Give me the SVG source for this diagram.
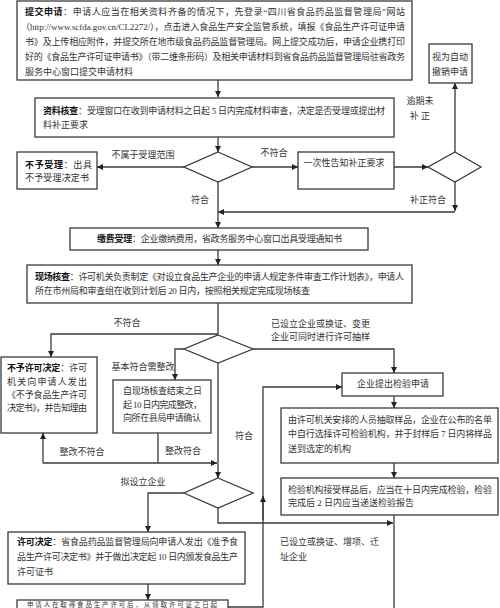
<svg xmlns="http://www.w3.org/2000/svg" width="500" height="608" viewBox="0 0 500 608">
<style>
text{font-family:"Liberation Serif","Noto Sans CJK SC",serif;font-size:9px;fill:#333;dominant-baseline:central}
.b{font-weight:bold;fill:#111}
.c{text-anchor:middle}
.box{fill:#fff;stroke:#3a3a3a;stroke-width:1.3}
.ln{fill:none;stroke:#3a3a3a;stroke-width:1.3}
.ar{marker-end:url(#ah)}
</style>
<defs>
<marker id="ah" viewBox="0 0 10 10" refX="10" refY="5" markerWidth="6" markerHeight="6" markerUnits="userSpaceOnUse" orient="auto"><path d="M0,0 L10,5 L0,10 z" fill="#222"/></marker>
</defs>
<rect width="500" height="608" fill="#fff"/>

<g id="n1">
<rect class="box" x="17" y="1" width="395" height="79"/>
<text x="25" y="12" textLength="380"><tspan class="b">提交申请</tspan>：申请人应当在相关资料齐备的情况下，先登录“四川省食品药品监督管理局”网站</text>
<text x="21" y="27" textLength="384">（http://www.scfda.gov.cn/CL2272/），点击进入食品生产安全监管系统，填报《食品生产许可证申请</text>
<text x="25" y="42" textLength="380">书》及上传相应附件，并提交所在地市级食品药品监督管理局。网上提交成功后，申请企业携打印</text>
<text x="25" y="57" textLength="380">好的《食品生产许可证申请书》（带二维条形码）及相关申请材料到省食品药品监督管理局驻省政务</text>
<text x="25" y="72">服务中心窗口提交申请材料</text>
</g>

<g id="n2">
<rect class="box" x="35" y="98" width="359" height="39"/>
<text x="43" y="111" textLength="342"><tspan class="b">资料核查</tspan>：受理窗口在收到申请材料之日起 5 日内完成材料审查，决定是否受理或提出材</text>
<text x="43" y="125">料补正要求</text>
</g>

<g id="n3">
<rect class="box" x="17" y="152" width="80" height="37"/>
<text x="25" y="165" textLength="67"><tspan class="b">不予受理</tspan>：出具</text>
<text x="25" y="178" textLength="64">不予受理决定书</text>
</g>

<g id="d1"><polygon class="box" points="218,152 252,167 218,182 184,167"/></g>

<g id="n4">
<rect class="box" x="298" y="152" width="96" height="37"/>
<text class="c" x="344" y="163">一次性告知补正要求</text>
</g>

<g id="d2"><polygon class="box" points="455,152 481,167 455,182 428,167"/></g>

<g id="n5">
<rect class="box" x="429" y="44" width="43" height="39"/>
<text class="c" x="450" y="57">视为自动</text>
<text class="c" x="450" y="72">撤销申请</text>
</g>

<g id="n6">
<rect class="box" x="70" y="228" width="298" height="22"/>
<text x="97" y="239" textLength="245"><tspan class="b">缴费受理</tspan>：企业缴纳费用，省政务服务中心窗口出具受理通知书</text>
</g>

<g id="n7">
<rect class="box" x="27" y="265" width="385" height="38"/>
<text x="35" y="277" textLength="369"><tspan class="b">现场核查</tspan>：许可机关负责制定《对设立食品生产企业的申请人规定条件审查工作计划表》，申请人</text>
<text x="35" y="291" textLength="275">所在市州局和审查组在收到计划后 20 日内，按照相关规定完成现场核查</text>
</g>

<g id="d3"><polygon class="box" points="218,335 253,349 218,363 184,349"/></g>

<g id="n8">
<rect class="box" x="1" y="357" width="96" height="76"/>
<text x="7" y="368" textLength="80"><tspan class="b">不予许可决定</tspan>：许可</text>
<text x="7" y="382" textLength="80">机关向申请人发出</text>
<text x="7" y="395" textLength="80">《不予食品生产许可</text>
<text x="7" y="408" textLength="80">决定书》，并告知理由</text>
</g>

<g id="n9">
<rect class="box" x="113" y="380" width="98" height="53"/>
<text x="123" y="391" textLength="79">自现场核查结束之日</text>
<text x="123" y="405" textLength="79">起 10 日内完成整改，</text>
<text x="123" y="418" textLength="78">向所在县局申请确认</text>
</g>

<g id="n10">
<rect class="box" x="342" y="373" width="101" height="23"/>
<text class="c" x="393" y="384">企业提出检验申请</text>
</g>

<g id="n11">
<rect class="box" x="281" y="408" width="217" height="55"/>
<text x="288" y="420" textLength="204">由许可机关安排的人员抽取样品，企业在公布的名单</text>
<text x="288" y="434" textLength="204">中自行选择许可检验机构，并于封样后 7 日内将样品</text>
<text x="288" y="449">送到选定的机构</text>
</g>

<g id="n12">
<rect class="box" x="281" y="478" width="217" height="37"/>
<text x="288" y="490" textLength="204">检验机构接受样品后，应当在十日内完成检验，检验</text>
<text x="288" y="503">完成后 2 日内应当递送检验报告</text>
</g>

<g id="d4"><polygon class="box" points="218,478 253,493 218,508 184,493"/></g>

<g id="n13">
<rect class="box" x="8" y="532" width="237" height="52"/>
<text x="17" y="542" textLength="221"><tspan class="b">许可决定</tspan>：省食品药品监督管理局向申请人发出《准予食</text>
<text x="17" y="557" textLength="221">品生产许可决定书》并于做出决定起 10 日内颁发食品生产</text>
<text x="17" y="572">许可证书</text>
</g>

<g id="n14">
<rect class="box" x="17" y="600" width="211" height="30"/>
<text x="27" y="604.5" style="font-size:6.5px" textLength="190">申请人在取得食品生产许可后，从领取许可证之日起</text>
</g>

<g id="connectors">
<line class="ln ar" x1="218" y1="80" x2="218" y2="97"/>
<line class="ln ar" x1="218" y1="137" x2="218" y2="152"/>
<line class="ln ar" x1="184" y1="167" x2="97" y2="167"/>
<line class="ln ar" x1="252" y1="167" x2="298" y2="167"/>
<line class="ln ar" x1="394" y1="167" x2="428" y2="167"/>
<line class="ln ar" x1="455" y1="152" x2="455" y2="83"/>
<line class="ln ar" x1="455" y1="182" x2="455" y2="211"/>
<polyline class="ln ar" points="455,212 218,212"/>
<line class="ln ar" x1="218" y1="182" x2="218" y2="228"/>
<line class="ln ar" x1="218" y1="250" x2="218" y2="265"/>
<line class="ln" x1="218" y1="303" x2="218" y2="335"/>
<polyline class="ln ar" points="218,334 51,334 51,357"/>
<polyline class="ln ar" points="184,349 175,349 175,380"/>
<polyline class="ln ar" points="253,349 394,349 394,373"/>
<line class="ln ar" x1="218" y1="363" x2="218" y2="478"/>
<line class="ln" x1="158" y1="433" x2="158" y2="463"/>
<line class="ln ar" x1="43" y1="463" x2="217" y2="463"/>
<line class="ln ar" x1="43" y1="463" x2="43" y2="433"/>
<line class="ln ar" x1="394" y1="396" x2="394" y2="408"/>
<line class="ln ar" x1="394" y1="463" x2="394" y2="478"/>
<line class="ln" x1="394" y1="515" x2="394" y2="608"/>
<polyline class="ln ar" points="184,493 148,493 148,532"/>
<polyline class="ln ar" points="218,508 218,523 393,523"/>
<line class="ln ar" x1="148" y1="584" x2="148" y2="600"/>
<polyline class="ln ar" points="228,607 263,607 263,387 342,387"/>
<line class="ln ar" x1="263" y1="520" x2="263" y2="496"/>
</g>

<g id="labels">
<text class="c" x="143" y="155">不属于受理范围</text>
<text class="c" x="274" y="153">不符合</text>
<text class="c" x="420" y="101">逾期未</text>
<text class="c" x="420" y="116">补  正</text>
<text class="c" x="428" y="200">补正符合</text>
<text class="c" x="200" y="200">符合</text>
<text class="c" x="127" y="323">不符合</text>
<text x="271" y="324">已设立企业或换证、变更</text>
<text x="271" y="337">企业可同时进行许可抽样</text>
<text class="c" x="143" y="367">基本符合需整改</text>
<text class="c" x="244" y="436">符合</text>
<text class="c" x="82" y="452">整改不符合</text>
<text class="c" x="183" y="451">整改符合</text>
<text class="c" x="143" y="482">拟设立企业</text>
<text x="280" y="542">已设立或换证、增项、迁</text>
<text x="280" y="557">址企业</text>
</g>
</svg>
